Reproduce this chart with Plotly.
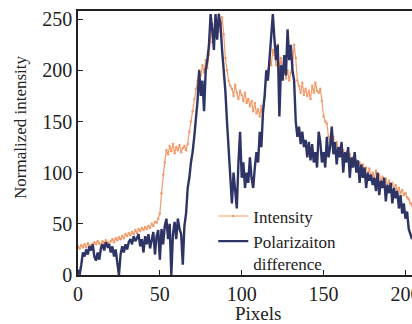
import plotly.graph_objects as go

pixels = list(range(205))

intensity = [
    28, 26, 29, 27, 30, 27, 31, 29, 28, 30,
    32, 30, 33, 31, 29, 33, 31, 34, 32, 30,
    33, 35, 32, 36, 34, 37, 35, 38, 36, 40,
    38, 41, 39, 42, 40, 44, 41, 45, 43, 46,
    44, 47, 45, 48, 46, 50, 48, 52, 51, 55,
    60, 80, 98, 110, 122, 118, 126, 121, 128, 119,
    125, 122, 127, 120, 124, 126, 122, 128, 140, 150,
    160, 172, 182, 190, 200, 195, 205, 198, 210, 202,
    215, 228, 245, 235, 250, 240, 255, 238, 252, 235,
    212, 200, 190, 185, 182, 175, 186, 178, 172, 180,
    176, 170, 178, 168, 172, 165, 170, 160, 168, 158,
    162, 155, 165, 152, 175, 195, 200, 210, 205, 220,
    215, 205, 225, 200, 212, 195, 205, 192, 200, 190,
    198, 205, 225, 212, 190, 185, 178, 188, 176, 182,
    175, 180, 172, 185, 178, 188, 180, 178, 182, 170,
    155, 150, 148, 135, 130, 128, 135, 125, 130, 122,
    125, 118, 122, 115, 120, 112, 118, 110, 115, 108,
    112, 105, 110, 102, 108, 100, 105, 98, 104, 96,
    100, 95, 102, 94, 98, 92, 96, 90, 94, 88,
    92, 86, 90, 84, 88, 82, 85, 80, 83, 78,
    80, 76, 74, 70, 68,
]

polarization = [
    5, 0, 10, 22, 18, 25, 20, 28, 24, 30,
    18, 14, 22, 15, 26, 30, 24, 32, 28, 30,
    22, 28, 18, 25, 12, 0, 20, 28, 22, 30,
    25, 32, 35, 30, 38, 33, 36, 40, 28, 35,
    22, 38, 30, 40, 26, 35, 42, 20, 38, 44,
    15, 45, 30, 48, 55, 35, 50, 0, 40, 52,
    35, 55, 45, 40, 10, 48, 60, 85, 95, 110,
    120, 135, 150, 170, 200, 175, 190, 160, 200, 210,
    225, 255, 240, 220, 255, 230, 255, 245, 220, 200,
    180, 150, 120, 95, 70, 100, 80, 65, 110, 140,
    95, 110, 85, 100, 90, 115, 95, 85, 105, 120,
    110, 140, 125, 160, 175, 200, 190, 215, 240, 255,
    230, 210, 225, 155, 205, 190, 215, 195, 240, 210,
    225, 200, 190, 150, 135, 145, 128, 140, 125, 132,
    115, 130, 112, 128, 110, 120, 105, 140, 130, 110,
    120, 105, 135, 115, 125, 145, 118, 130, 108, 125,
    115, 130, 100, 120, 110, 125, 95, 115, 105, 120,
    100, 112, 90, 108, 95, 105, 85, 100, 92, 98,
    88, 95, 82, 100, 78, 92, 85, 95, 72, 88,
    80, 90, 70, 85, 75, 82, 65, 78, 60, 70,
    55, 62, 45, 40, 35,
]

x_ticks = [0, 50, 100, 150, 200]
y_ticks = [0, 50, 100, 150, 200, 250]

FONT = "Liberation Serif"

fig = go.Figure()
fig.add_trace(go.Scatter(
    x=pixels, y=intensity, mode="lines+markers", name="Intensity",
    line=dict(color="#F39A6A", width=1.2),
    marker=dict(color="#F39A6A", size=2.5),
))
fig.add_trace(go.Scatter(
    x=pixels, y=polarization, mode="lines", name="Polarizaiton<br>difference",
    line=dict(color="#2E3466", width=2.4),
))

axis_common = dict(
    showgrid=False, zeroline=False, showline=True, linecolor="#222",
    linewidth=1.5, ticks="inside", ticklen=5, tickcolor="#222",
    tickfont=dict(family=FONT, size=20, color="#222"),
    ticklabeloverflow="allow", automargin=False,
)

fig.update_layout(
    width=412, height=324,
    margin=dict(l=78, r=0, t=11, b=49, autoexpand=False),
    paper_bgcolor="white", plot_bgcolor="white",
    font=dict(family=FONT, color="#222"),
    xaxis=dict(range=[0, 204], tickvals=x_ticks, mirror=True, **axis_common),
    yaxis=dict(range=[0, 258], tickvals=y_ticks, **axis_common),
    legend=dict(x=0.405, y=0.29, xanchor="left", yanchor="top", valign="top",
                bgcolor="rgba(0,0,0,0)", font=dict(family=FONT, size=17, color="#222"),
                tracegroupgap=0, itemwidth=30),
    showlegend=True,
    annotations=[
        dict(text="Normalized intensity", xref="paper", yref="paper",
             x=-78 / 334 + 20 / 334, y=(275 - 127) / 264, xanchor="center", yanchor="middle",
             textangle=-90, showarrow=False, font=dict(family=FONT, size=17, color="#222")),
        dict(text="Pixels", xref="paper", yref="paper",
             x=(258 - 78) / 334, y=-(313 - 275) / 264, xanchor="center", yanchor="middle",
             showarrow=False, font=dict(family=FONT, size=19, color="#222")),
    ],
)

fig.write_html("out.html")
